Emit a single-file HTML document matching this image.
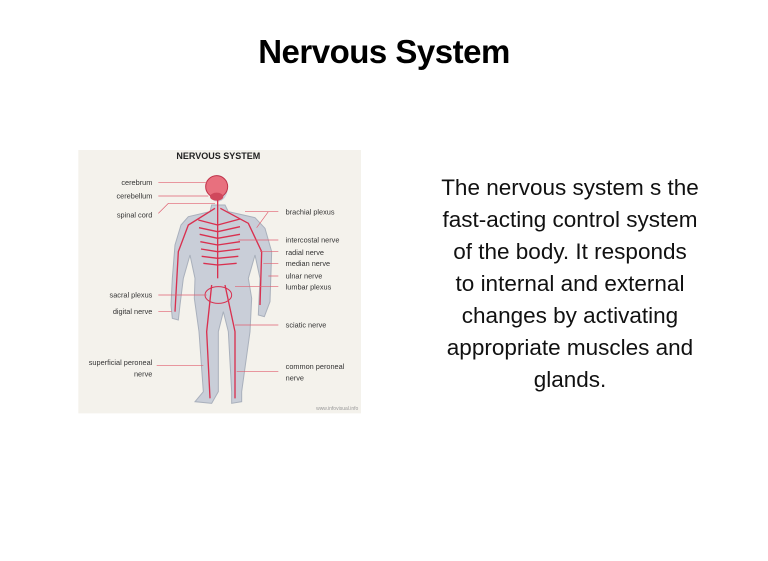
<!DOCTYPE html>
<html><head><style>
body{margin:0;width:768px;height:561px;background:#fff;position:relative;overflow:hidden;font-family:"Liberation Sans",sans-serif}
h1{position:absolute;left:0;width:768px;top:33px;margin:0;text-align:center;font-family:"Liberation Sans Narrow","Liberation Sans",sans-serif;font-weight:bold;font-size:33px;color:#000;letter-spacing:-0.5px}
.t{position:absolute;left:370px;width:400px;top:172px;text-align:center;font-size:22.5px;line-height:32px;color:#111;white-space:nowrap}
svg{position:absolute;left:75px;top:145px}
</style></head><body>
<h1>Nervous System</h1>
<svg width="290" height="270" viewBox="0 0 870 810">
<rect x="10" y="15" width="848" height="790" fill="#f4f2ec"/>
<text x="430" y="42" font-size="27" font-weight="bold" text-anchor="middle" font-family="Liberation Sans" fill="#222">NERVOUS SYSTEM</text>
<path d="M410 180 L405 200 L340 215 L318 240 L300 300 L292 400 L288 480 L292 520 L310 525 L315 480 L325 400 L345 330 L360 400 L358 460 L372 560 L385 740 L360 770 L410 775 L430 740 L430 560 L445 500 L460 560 L470 740 L470 775 L500 770 L500 740 L525 560 L530 460 L520 400 L540 330 L555 400 L550 510 L568 515 L585 470 L590 320 L570 250 L540 218 L460 200 L450 180 Z" fill="#c9ced8" stroke="#a9b0bc" stroke-width="3"/>
<ellipse cx="428" cy="130" rx="30" ry="40" fill="#c9ced8"/>
<circle cx="425" cy="125" r="33" fill="#e8707e" stroke="#c0334a" stroke-width="3"/>
<ellipse cx="425" cy="155" rx="20" ry="12" fill="#d0485c"/>
<g stroke="#d9304f" stroke-width="4" fill="none">
<path d="M428 165 L428 400"/>
<path d="M420 190 L340 240 L310 320 L300 500"/>
<path d="M436 190 L520 235 L560 320 L555 480"/>
<path d="M428 240 L370 225 M428 260 L372 248 M428 280 L374 268 M428 300 L376 290 M428 320 L378 312 M428 340 L380 334 M428 360 L385 355"/>
<path d="M428 240 L495 222 M428 260 L495 245 M428 280 L495 268 M428 300 L495 290 M428 320 L495 312 M428 340 L490 334 M428 360 L485 355"/>
<path d="M410 420 L395 560 L405 760 M450 420 L480 560 L480 760"/>
<ellipse cx="430" cy="450" rx="40" ry="25" stroke-width="3"/>
</g>
<g stroke="#e06070" stroke-width="2" fill="none">
<path d="M250 113 L395 113 M250 153 L400 153 M250 205 L280 175 L420 175 M250 450 L395 450 M250 500 L290 500 M245 662 L385 662"/>
<path d="M610 200 L510 200 M580 200 L545 248 M610 285 L490 285 M610 320 L555 320 M610 355 L565 355 M610 393 L580 393 M610 425 L480 425 M610 540 L480 540 M610 680 L485 680"/>
</g>
<g font-size="22" fill="#333" font-family="Liberation Sans">
<text x="232" y="120" text-anchor="end">cerebrum</text>
<text x="232" y="160" text-anchor="end">cerebellum</text>
<text x="232" y="218" text-anchor="end">spinal cord</text>
<text x="232" y="457" text-anchor="end">sacral plexus</text>
<text x="232" y="507" text-anchor="end">digital nerve</text>
<text x="232" y="660" text-anchor="end">superficial peroneal</text>
<text x="232" y="694" text-anchor="end">nerve</text>
<text x="632" y="208">brachial plexus</text>
<text x="632" y="293">intercostal nerve</text>
<text x="632" y="330">radial nerve</text>
<text x="632" y="363">median nerve</text>
<text x="632" y="400">ulnar nerve</text>
<text x="632" y="434">lumbar plexus</text>
<text x="632" y="548">sciatic nerve</text>
<text x="632" y="672">common peroneal</text>
<text x="632" y="706">nerve</text>
<text x="850" y="795" font-size="15" fill="#999" text-anchor="end">www.infovisual.info</text>
</g>
</svg>
<div class="t">The nervous system s the<br>fast-acting control system<br>of the body. It responds<br>to internal and external<br>changes by activating<br>appropriate muscles and<br>glands.</div>
</body></html>
